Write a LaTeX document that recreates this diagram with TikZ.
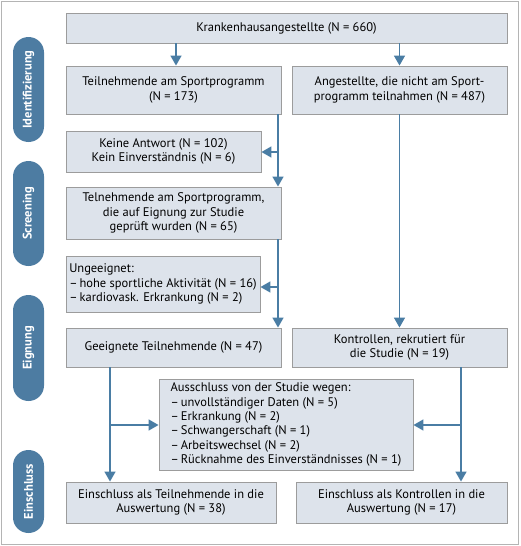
\documentclass[tikz,border=0pt]{standalone}
\usepackage{fontspec}
\setmainfont{PT Sans}
\usetikzlibrary{arrows.meta}
\definecolor{boxfill}{HTML}{DDE3EB}
\definecolor{boxline}{HTML}{9C9C9C}
\definecolor{arrblue}{HTML}{4A7DA4}
\definecolor{pillblue}{HTML}{4D7CA2}
\definecolor{framegray}{HTML}{B4B4B4}
\tikzset{
  fbox/.style={draw=boxline, fill=boxfill, line width=0.9pt, inner sep=2pt, font=\fontsize{12.5}{14.3}\selectfont, align=center},
  lbox/.style={fbox, align=left},
  pill/.style={fill=pillblue, rounded corners=15.5pt, minimum height=31pt, text=white, font=\bfseries\fontsize{12.5}{14}\selectfont, rotate=90, inner sep=0pt},
  arr/.style={draw=arrblue, line width=1.6pt, -{Triangle[length=10pt,width=11pt]}}
}
\begin{document}
\begin{tikzpicture}[x=1pt,y=-1pt]
\useasboundingbox (0,0) rectangle (520,546);
\draw[framegray, line width=1pt] (1,1) rectangle (518.5,544);
% side pills
\node[pill, minimum width=105pt] (p1) at (28.5,89.5) {Identifizierung};
\node[pill, minimum width=105pt] (p2) at (28.5,213.5) {Screening};
\node[pill, minimum width=106pt] (p3) at (28.5,348) {Eignung};
\node[pill, minimum width=83pt] (p4) at (28.5,491.5) {Einschluss};
% boxes
\node[fbox, minimum width=441pt, minimum height=30pt] (top) at (286.5,28) {Krankenhausangestellte (N = 660)};
\node[fbox, minimum width=215pt, minimum height=48pt] (t1) at (173.5,90) {Teilnehmende am Sportprogramm\\(N = 173)};
\node[fbox, minimum width=215pt, minimum height=48pt] (a1) at (399.5,90) {Angestellte, die nicht am Sport-\\programm teilnahmen (N = 487)};
\node[fbox, minimum width=195pt, minimum height=41pt] (k) at (163.5,151.5) {Keine Antwort (N = 102)\\Kein Einverständnis (N = 6)};
\node[fbox, minimum width=215pt, minimum height=52pt] (s) at (173.5,213) {Telnehmende am Sportprogramm,\\die auf Eignung zur Studie\\geprüft wurden (N = 65)};
\node[lbox, minimum width=194pt, minimum height=56pt] (u) at (163,284) {Ungeeignet:\\–\,hohe sportliche Aktivität (N = 16)\\–\,kardiovask. Erkrankung (N = 2)};
\node[fbox, minimum width=215pt, minimum height=39pt] (g) at (173.5,347.5) {Geeignete Teilnehmende (N = 47)};
\node[fbox, minimum width=215pt, minimum height=39pt] (c) at (399.5,347.5) {Kontrollen, rekrutiert für\\die Studie (N = 19)};
\node[lbox, minimum width=254pt, minimum height=91pt] (x) at (286,424.5) {Ausschluss von der Studie wegen:\\–\,unvollständiger Daten (N = 5)\\–\,Erkrankung (N = 2)\\–\,Schwangerschaft (N = 1)\\–\,Arbeitswechsel (N = 2)\\–\,Rücknahme des Einverständnisses (N = 1)};
\node[fbox, minimum width=210pt, minimum height=41pt] (e1) at (171,502.5) {Einschluss als Teilnehmende in die\\Auswertung (N = 38)};
\node[fbox, minimum width=211pt, minimum height=41pt] (e2) at (401.5,502.5) {Einschluss als Kontrollen in die\\Auswertung (N = 17)};
% trunk coordinates
\coordinate (tl) at (278,0);
\coordinate (tr) at (461,0);
\coordinate (bl) at (110,0);
\coordinate (tk) at (176,0);
\coordinate (jk) at (0,152);
\coordinate (ju) at (0,287);
\coordinate (jx) at (0,425);
% arrows
\draw[arr] (top.south -| tk) -- (t1.north -| tk);
\draw[arr] (top.south -| a1.north) -- (a1.north);
\draw[arr] (t1.south -| tl) -- (s.north -| tl);
\draw[arr] (tl |- jk) -- (k.east |- jk);
\draw[arr] (s.south -| tl) -- (g.north -| tl);
\draw[arr] (tl |- ju) -- (u.east |- ju);
\draw[arr] (a1.south) -- (c.north);
\draw[arr] (g.south -| bl) -- (e1.north -| bl);
\draw[arr] (bl |- jx) -- (x.west |- jx);
\draw[arr] (c.south -| tr) -- (e2.north -| tr);
\draw[arr] (tr |- jx) -- (x.east |- jx);
\end{tikzpicture}
\end{document}
